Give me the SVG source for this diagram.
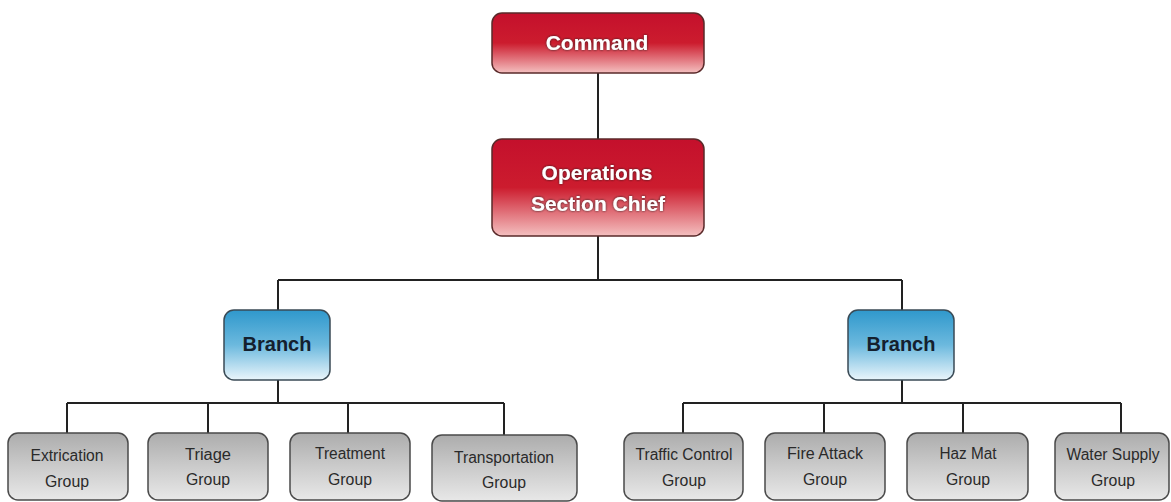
<svg xmlns="http://www.w3.org/2000/svg" width="1171" height="502" viewBox="0 0 1171 502">
<defs>
<linearGradient id="gRed" x1="0" y1="0" x2="0" y2="1">
<stop offset="0" stop-color="#c4102c"/>
<stop offset="0.5" stop-color="#cc1c2e"/>
<stop offset="1" stop-color="#f4c0c0"/>
</linearGradient>
<linearGradient id="gBlue" x1="0" y1="0" x2="0" y2="1">
<stop offset="0" stop-color="#2f98cc"/>
<stop offset="0.5" stop-color="#6cb9de"/>
<stop offset="1" stop-color="#eaf5fb"/>
</linearGradient>
<linearGradient id="gGray" x1="0" y1="0" x2="0" y2="1">
<stop offset="0" stop-color="#acacac"/>
<stop offset="0.5" stop-color="#cbcbcb"/>
<stop offset="1" stop-color="#e8e8e8"/>
</linearGradient>
<filter id="sh" x="-10%" y="-20%" width="120%" height="140%">
<feDropShadow dx="0" dy="0" stdDeviation="1" flood-color="#222" flood-opacity="1"/>
</filter>
</defs>
<style>
.red{fill:url(#gRed);stroke:#5a2a2a;stroke-width:1.5}
.blue{fill:url(#gBlue);stroke:#3a4a55;stroke-width:1.5}
.gray{fill:url(#gGray);stroke:#4a4a4a;stroke-width:1.5}
.tw{font-family:"Liberation Sans",Arial,sans-serif;font-weight:bold;font-size:21px;fill:#fff;text-anchor:middle;filter:url(#sh)}
.tb{font-family:"Liberation Sans",Arial,sans-serif;font-weight:bold;font-size:20px;fill:#14202e;text-anchor:middle}
.tg{font-family:"Liberation Sans",Arial,sans-serif;font-size:16px;fill:#2a2a2a;text-anchor:middle}
.ln{stroke:#222;stroke-width:2;fill:none}
</style>
<rect width="1171" height="502" fill="#fff"/>
<g id="connectors">
<path class="ln" d="M598 73V139M598 236V280M278 280H902M278 280V310M902 280V310"/>
<path class="ln" d="M278 380V403M67 403H504M67 403V433M208 403V433M348 403V433M504 403V435"/>
<path class="ln" d="M902 380V403M683 403H1121M683 403V433M824 403V433M963 403V433M1121 403V433"/>
</g>
<g id="command">
<rect class="red" x="492" y="13" width="212" height="60" rx="10"/>
<text class="tw" x="597" y="50">Command</text>
</g>
<g id="ops">
<rect class="red" x="492" y="139" width="212" height="97" rx="10"/>
<text class="tw" x="597" y="180">Operations</text>
<text class="tw" x="598" y="211">Section Chief</text>
</g>
<g id="branch1">
<rect class="blue" x="224" y="310" width="106" height="70" rx="10"/>
<text class="tb" x="277" y="351">Branch</text>
</g>
<g id="branch2">
<rect class="blue" x="848" y="310" width="106" height="70" rx="10"/>
<text class="tb" x="901" y="351">Branch</text>
</g>
<g id="extrication">
<rect class="gray" x="8" y="433" width="120" height="67" rx="10"/>
<text class="tg" x="67" y="461" textLength="73" lengthAdjust="spacingAndGlyphs">Extrication</text>
<text class="tg" x="67" y="487" textLength="44" lengthAdjust="spacingAndGlyphs">Group</text>
</g>
<g id="triage">
<rect class="gray" x="148" y="433" width="120" height="67" rx="10"/>
<text class="tg" x="208" y="460" textLength="46" lengthAdjust="spacingAndGlyphs">Triage</text>
<text class="tg" x="208" y="485" textLength="44" lengthAdjust="spacingAndGlyphs">Group</text>
</g>
<g id="treatment">
<rect class="gray" x="290" y="433" width="120" height="67" rx="10"/>
<text class="tg" x="350" y="459" textLength="70" lengthAdjust="spacingAndGlyphs">Treatment</text>
<text class="tg" x="350" y="485" textLength="44" lengthAdjust="spacingAndGlyphs">Group</text>
</g>
<g id="transportation">
<rect class="gray" x="432" y="435" width="145" height="66" rx="10"/>
<text class="tg" x="504" y="463" textLength="100" lengthAdjust="spacingAndGlyphs">Transportation</text>
<text class="tg" x="504" y="488" textLength="44" lengthAdjust="spacingAndGlyphs">Group</text>
</g>
<g id="traffic">
<rect class="gray" x="624" y="433" width="119" height="67" rx="10"/>
<text class="tg" x="684" y="460" textLength="97" lengthAdjust="spacingAndGlyphs">Traffic Control</text>
<text class="tg" x="684" y="486" textLength="44" lengthAdjust="spacingAndGlyphs">Group</text>
</g>
<g id="fireattack">
<rect class="gray" x="765" y="433" width="120" height="67" rx="10"/>
<text class="tg" x="825" y="459" textLength="76" lengthAdjust="spacingAndGlyphs">Fire Attack</text>
<text class="tg" x="825" y="485" textLength="44" lengthAdjust="spacingAndGlyphs">Group</text>
</g>
<g id="hazmat">
<rect class="gray" x="907" y="433" width="121" height="67" rx="10"/>
<text class="tg" x="968" y="459" textLength="57" lengthAdjust="spacingAndGlyphs">Haz Mat</text>
<text class="tg" x="968" y="485" textLength="44" lengthAdjust="spacingAndGlyphs">Group</text>
</g>
<g id="water">
<rect class="gray" x="1055" y="433" width="114" height="67" rx="10"/>
<text class="tg" x="1113" y="460" textLength="93" lengthAdjust="spacingAndGlyphs">Water Supply</text>
<text class="tg" x="1113" y="486" textLength="44" lengthAdjust="spacingAndGlyphs">Group</text>
</g>
</svg>
